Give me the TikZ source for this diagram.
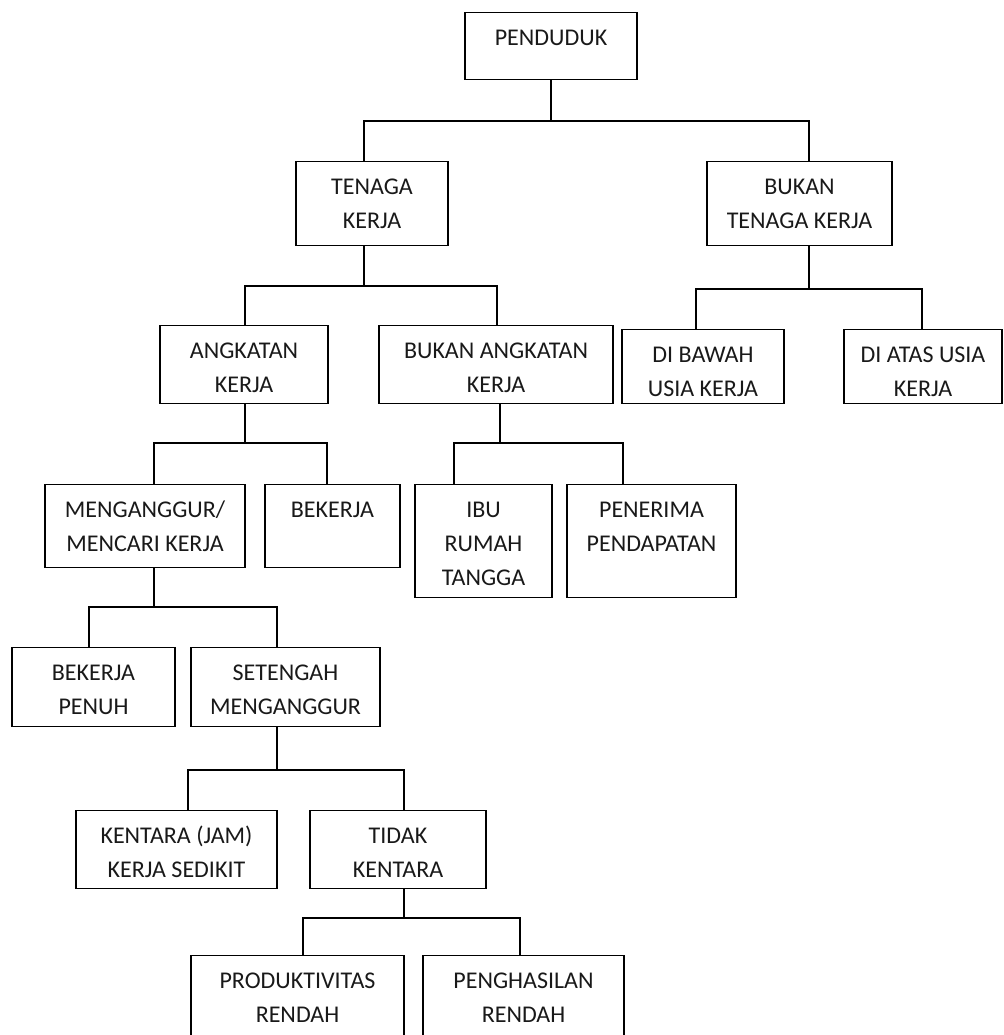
\documentclass[tikz,border=0pt]{standalone}
\usepackage{fontspec}
\setmainfont{Carlito}
\usepackage{tikz}

\newcommand{\isi}[3]{\parbox[t][#2][t]{#1}{\centering\rule{0pt}{33pt}#3}}

\tikzset{
  kotak/.style={draw, line width=1.3pt, inner sep=0pt, anchor=north,
    text=black!90, font=\fontsize{24pt}{34pt}\selectfont},
  garis/.style={line width=1.3pt}
}

\begin{document}
\begin{tikzpicture}[x=1pt,y=-1pt]
\useasboundingbox (0,0) rectangle (1003,1035);

  \node[kotak] (PD)   at (551,12)    {\isi{172pt}{67pt}{PENDUDUK}};

  \node[kotak] (TK)   at (372,161)   {\isi{152pt}{84pt}{TENAGA\\KERJA}};
  \node[kotak] (BTK)  at (799.5,161) {\isi{185pt}{84pt}{BUKAN\\TENAGA KERJA}};

  \node[kotak] (AK)   at (244,325)   {\isi{168pt}{78pt}{ANGKATAN\\KERJA}};
  \node[kotak] (BAK)  at (496,325)   {\isi{234pt}{78pt}{BUKAN ANGKATAN\\KERJA}};
  \node[kotak] (DBU)  at (703,329)   {\isi{162pt}{74pt}{DI BAWAH\\USIA KERJA}};
  \node[kotak] (DAU)  at (923,329)   {\isi{158pt}{74pt}{DI ATAS USIA\\KERJA}};

  \node[kotak] (MENG) at (145,484)   {\isi{200pt}{83pt}{MENGANGGUR/\\MENCARI KERJA}};
  \node[kotak] (BEK)  at (332.5,484) {\isi{135pt}{83pt}{BEKERJA}};
  \node[kotak] (IBU)  at (483.5,484) {\isi{137pt}{113pt}{IBU\\RUMAH\\TANGGA}};
  \node[kotak] (PEN)  at (651.5,484) {\isi{169pt}{113pt}{PENERIMA\\PENDAPATAN}};

  \node[kotak] (BP)   at (93.5,647)  {\isi{163pt}{79pt}{BEKERJA\\PENUH}};
  \node[kotak] (SM)   at (285.5,647) {\isi{189pt}{79pt}{SETENGAH\\MENGANGGUR}};

  \node[kotak] (KEN)  at (176.5,810) {\isi{201pt}{78pt}{KENTARA (JAM)\\KERJA SEDIKIT}};
  \node[kotak] (TID)  at (398,810)   {\isi{176pt}{78pt}{TIDAK\\KENTARA}};

  \node[kotak] (PROD) at (297.5,955) {\isi{213pt}{82pt}{PRODUKTIVITAS\\RENDAH}};
  \node[kotak] (PENG) at (523.5,955) {\isi{201pt}{82pt}{PENGHASILAN\\RENDAH}};


  \draw[garis] (PD.south) -- (551,121) -| (TK.north -| 364,0);
  \draw[garis] (PD.south) -- (551,121) -| (BTK.north -| 809,0);

  \draw[garis] (TK.south -| 364,0) -- (364,286) -| (AK.north -| 245,0);
  \draw[garis] (TK.south -| 364,0) -- (364,286) -| (BAK.north -| 497,0);

  \draw[garis] (BTK.south -| 809,0) -- (809,289) -| (DBU.north -| 696,0);
  \draw[garis] (BTK.south -| 809,0) -- (809,289) -| (DAU.north -| 922,0);

  \draw[garis] (AK.south -| 245,0) -- (245,443) -| (MENG.north -| 154,0);
  \draw[garis] (AK.south -| 245,0) -- (245,443) -| (BEK.north -| 327,0);

  \draw[garis] (BAK.south -| 500,0) -- (500,443) -| (IBU.north -| 454,0);
  \draw[garis] (BAK.south -| 500,0) -- (500,443) -| (PEN.north -| 623,0);

  \draw[garis] (MENG.south -| 154,0) -- (154,607) -| (BP.north -| 89,0);
  \draw[garis] (MENG.south -| 154,0) -- (154,607) -| (SM.north -| 277,0);

  \draw[garis] (SM.south -| 277,0) -- (277,770) -| (KEN.north -| 188,0);
  \draw[garis] (SM.south -| 277,0) -- (277,770) -| (TID.north -| 404,0);

  \draw[garis] (TID.south -| 404,0) -- (404,918) -| (PROD.north -| 303,0);
  \draw[garis] (TID.south -| 404,0) -- (404,918) -| (PENG.north -| 520,0);

\end{tikzpicture}
\end{document}
